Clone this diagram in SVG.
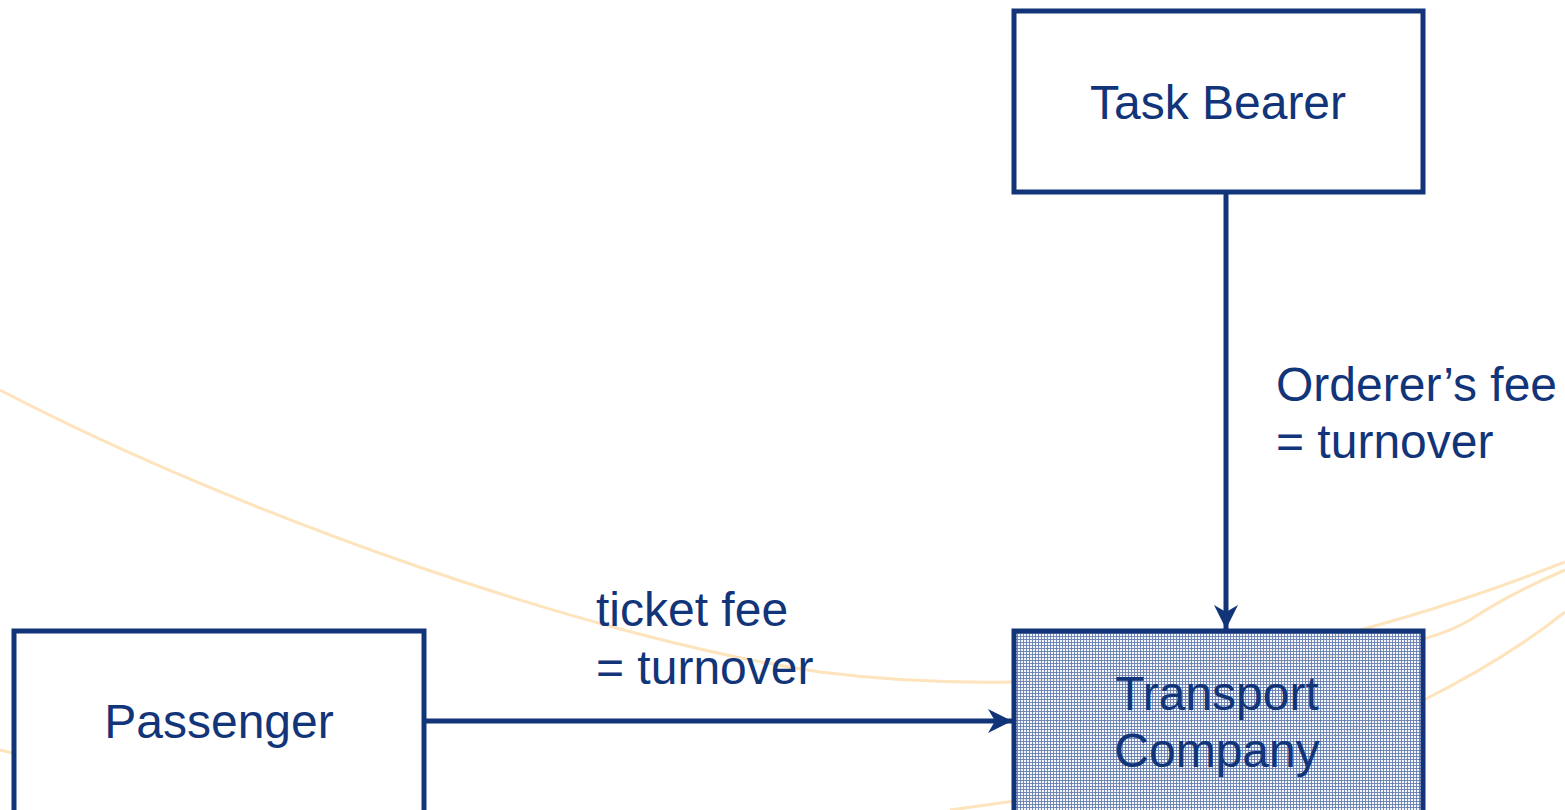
<svg xmlns="http://www.w3.org/2000/svg" width="1565" height="810" viewBox="0 0 1565 810">
  <style>
    .box { fill: #ffffff; stroke: #12357a; stroke-width: 5; }
    .hatched { fill: url(#hatch); stroke: #12357a; stroke-width: 5; }
    .lbl { font-family: "Liberation Sans", Arial, sans-serif; font-size: 48px; fill: #12357a; }
    .mid { text-anchor: middle; }
    .conn { stroke: #12357a; stroke-width: 5; fill: none; marker-end: url(#arrow); }
    .deco { fill: none; stroke: #fde4bd; stroke-width: 3; }
  </style>
  <defs>
    <pattern id="hatch" width="3" height="3" patternUnits="userSpaceOnUse">
      <rect width="3" height="3" fill="#f2f4f9" fill-opacity="0.7"/>
      <rect width="1" height="3" fill="#6680b4" fill-opacity="0.9"/>
      <rect width="3" height="1" fill="#6680b4" fill-opacity="0.9"/>
    </pattern>
    <marker id="arrow" viewBox="0 0 24 24" refX="24" refY="12" markerWidth="24" markerHeight="24" markerUnits="userSpaceOnUse" orient="auto">
      <path d="M0,0 L24,12 L0,24 L7,12 Z" fill="#12357a"/>
    </marker>
  </defs>
  <rect width="1565" height="810" fill="#ffffff"/>
  <g id="background-curves">
    <path class="deco" d="M0,390 C250,520 600,640 820,672 C900,682 960,683 1012,682 C1200,676 1380,635 1565,562"/>
    <path class="deco" d="M1200,668 C1320,660 1420,650 1470,620 C1500,600 1530,585 1565,570"/>
    <path class="deco" d="M950,810 C1100,790 1300,760 1420,702 C1480,672 1530,640 1565,612"/>
    <path class="deco" d="M0,750 C90,772 170,790 250,810"/>
  </g>
  <g id="node-task-bearer">
    <rect class="box" x="1014" y="11" width="409" height="181"/>
    <text class="lbl mid" x="1218" y="119">Task Bearer</text>
  </g>
  <g id="node-passenger">
    <rect class="box" x="14" y="631" width="410" height="200"/>
    <text class="lbl mid" x="219" y="738">Passenger</text>
  </g>
  <g id="node-transport-company">
    <rect class="hatched" x="1014" y="631" width="409" height="200"/>
    <text class="lbl mid" x="1217" y="710">Transport</text>
    <text class="lbl mid" x="1217" y="767">Company</text>
  </g>
  <g id="connectors">
    <line class="conn" x1="1226" y1="194" x2="1226" y2="629"/>
    <line class="conn" x1="426" y1="721" x2="1012" y2="721"/>
    <text class="lbl" x="1276" y="401">Orderer’s fee</text>
    <text class="lbl" x="1276" y="458">= turnover</text>
    <text class="lbl" x="596" y="626">ticket fee</text>
    <text class="lbl" x="596" y="684">= turnover</text>
  </g>
</svg>
